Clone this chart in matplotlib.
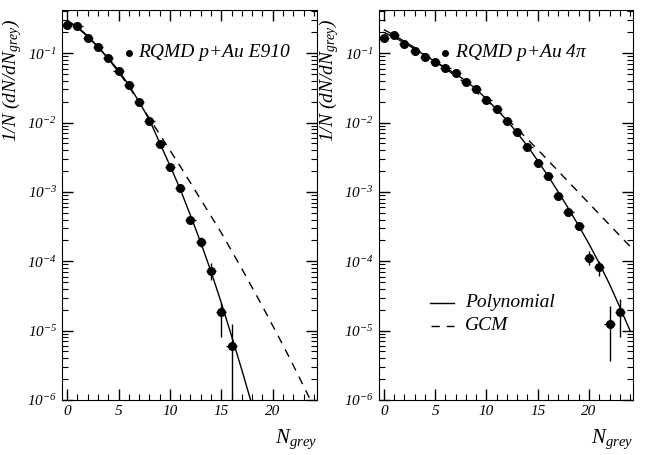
import numpy as np
import matplotlib.pyplot as plt
from matplotlib.ticker import LogLocator, MultipleLocator, FixedLocator

plt.rcParams['font.family'] = 'Liberation Serif'
plt.rcParams['font.style'] = 'italic'
plt.rcParams['mathtext.fontset'] = 'custom'
plt.rcParams['mathtext.rm'] = 'Liberation Serif:italic'
plt.rcParams['mathtext.it'] = 'Liberation Serif:italic'

# -----------------------------
# Left panel: RQMD p+Au E910
# -----------------------------
n_e910 = np.arange(0, 17)
y_e910 = [0.253, 0.245, 0.166, 0.121, 0.0857, 0.0555, 0.0346, 0.0200, 0.0106,
          0.0049, 0.00231, 0.00113, 0.000398, 0.000192, 7.3e-5, 1.87e-5, 6.0e-6]
hi_e910 = [0, 0, 0, 0, 0, 0, 0, 0, 0, 0, 0, 0.00007, 0.00003, 0.00003,
           2.2e-5, 0.65e-5, 6.3e-6]
lo_e910 = [0, 0, 0, 0, 0, 0, 0, 0, 0, 0, 0, 0.00007, 0.00003, 0.00003,
           2.0e-5, 1.07e-5, 6.0e-6]

poly_x_e910 = np.arange(0, 19)
poly_e910 = [-0.54, -0.62, -0.75, -0.91, -1.07, -1.25, -1.46, -1.70, -1.96, -2.29,
             -2.62, -2.96, -3.34, -3.73, -4.15, -4.60, -5.08, -5.57, -6.08]
gcm_x_e910 = np.arange(0, 25)
gcm_e910 = [-0.52, -0.63, -0.76, -0.91, -1.08, -1.27, -1.48, -1.71, -1.94, -2.17,
            -2.40, -2.63, -2.87, -3.11, -3.35, -3.59, -3.85, -4.11, -4.38, -4.65,
            -4.93, -5.21, -5.50, -5.80, -6.10]

# -----------------------------
# Right panel: RQMD p+Au 4pi
# -----------------------------
n_4pi = np.arange(0, 24)
y_4pi = [0.168, 0.181, 0.135, 0.108, 0.0885, 0.075, 0.0622, 0.0527, 0.0386, 0.030,
         0.0215, 0.0155, 0.0106, 0.0073, 0.0044, 0.00262, 0.0017, 0.00086, 0.00052,
         0.000325, 1.12e-4, 8.3e-5, 1.26e-5, 1.87e-5]
hi_4pi = [0] * 18 + [0.00004, 0.00004, 0.27e-4, 0.17e-4, 1.0e-5, 1.0e-5]
lo_4pi = [0] * 18 + [0.00004, 0.00004, 0.23e-4, 0.22e-4, 0.90e-5, 1.07e-5]

poly_x_4pi = np.arange(0, 25)
poly_4pi = [-0.70, -0.77, -0.85, -0.94, -1.03, -1.12, -1.21, -1.30, -1.40, -1.52,
            -1.66, -1.81, -1.97, -2.15, -2.34, -2.55, -2.77, -3.00, -3.24, -3.49,
            -3.75, -4.03, -4.33, -4.66, -5.00]
gcm_x_4pi = np.arange(0, 25)
gcm_4pi = [-0.66, -0.74, -0.83, -0.92, -1.02, -1.12, -1.22, -1.33, -1.44, -1.56,
           -1.68, -1.81, -1.95, -2.09, -2.24, -2.39, -2.545, -2.70, -2.855, -3.01,
           -3.165, -3.32, -3.475, -3.63, -3.785]

fig = plt.figure(figsize=(6.52, 4.55), dpi=100)
ax1 = fig.add_axes([0.0951, 0.121, 0.391, 0.857])
ax2 = fig.add_axes([0.581, 0.121, 0.390, 0.857])

panels = [
    (ax1, n_e910, y_e910, lo_e910, hi_e910, poly_x_e910, poly_e910,
     gcm_x_e910, gcm_e910, 'RQMD p+Au E910'),
    (ax2, n_4pi, y_4pi, lo_4pi, hi_4pi, poly_x_4pi, poly_4pi,
     gcm_x_4pi, gcm_4pi, r'RQMD p+Au 4$\pi$'),
]

for ax, n, y, lo, hi, px, py, gx, gy, label in panels:
    ax.plot(px, 10 ** np.array(py), color='black', lw=1.0)
    ax.plot(gx, 10 ** np.array(gy), color='black', lw=1.0, dashes=(6, 5))
    ax.errorbar(n, y, xerr=0.5, yerr=[lo, hi], fmt='o', color='black',
                ms=5.5, elinewidth=1.0, capsize=0)

    ax.set_yscale('log')
    ax.set_xlim(-0.5, 24.3)
    ax.set_ylim(1e-6, 0.42)

    ax.xaxis.set_major_locator(FixedLocator([0, 5, 10, 15, 20]))
    ax.xaxis.set_minor_locator(MultipleLocator(1))
    ax.yaxis.set_major_locator(FixedLocator([1e-6, 1e-5, 1e-4, 1e-3, 1e-2, 1e-1]))
    ax.yaxis.set_minor_locator(LogLocator(base=10, subs=np.arange(2, 10), numticks=20))
    ax.set_yticklabels([r'$10^{-%d}$' % k for k in [6, 5, 4, 3, 2, 1]])
    ax.yaxis.set_minor_formatter(plt.NullFormatter())
    ax.tick_params(which='both', direction='in', top=True, right=True, labelsize=11)
    ax.tick_params(which='major', length=8, width=1)
    ax.tick_params(which='minor', length=4, width=0.8)

    ax.set_ylabel(r'1/N (dN/dN$_{grey}$)', fontsize=14)
    ax.yaxis.set_label_coords(-0.15, 0.82)
    ax.text(1.0, -0.1, r'N$_{grey}$', transform=ax.transAxes, ha='right',
            va='center', fontsize=15)

    ax.plot([0.262], [0.89], 'o', color='black', ms=4, transform=ax.transAxes)
    ax.text(0.30, 0.89, label, transform=ax.transAxes, fontsize=14, va='center')

# legend for curves (right panel)
ax2.plot([0.20, 0.295], [0.249, 0.249], color='black', lw=1.0, transform=ax2.transAxes)
ax2.plot([0.205, 0.295], [0.19, 0.19], color='black', lw=1.0, dashes=(6, 5),
         transform=ax2.transAxes)
ax2.text(0.34, 0.249, 'Polynomial', transform=ax2.transAxes, fontsize=14, va='center')
ax2.text(0.34, 0.19, 'GCM', transform=ax2.transAxes, fontsize=14, va='center')

plt.savefig('out.png', dpi=100)
